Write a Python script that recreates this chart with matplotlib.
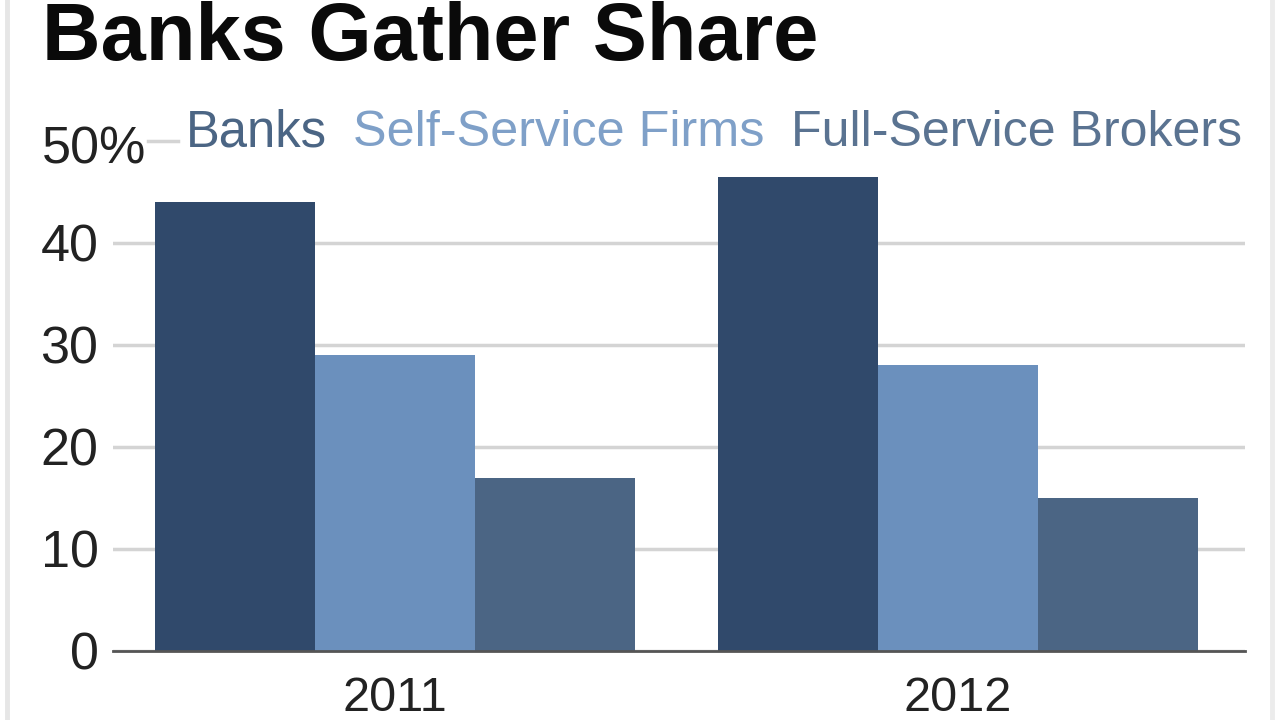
import matplotlib.pyplot as plt
import numpy as np

years = ['2011', '2012']
banks = [44, 46.5]
self_service = [29, 28]
full_service = [17, 15]
y_ticks = [0, 10, 20, 30, 40, 50]
y_labels = ['0', '10', '20', '30', '40', '50%']

plt.rcParams['font.family'] = ['Liberation Sans', 'DejaVu Sans']

fig = plt.figure(figsize=(12.8, 7.2), dpi=100)
# axes spans x 113-1245 px, y 650 (zero) up to 141 (50)
ax = fig.add_axes([113 / 1280, 1 - 651 / 720, (1245 - 113) / 1280, (651 - 141) / 720])

x = np.arange(len(years))
w = 0.2841
ax.bar(x - w, banks, w, color='#30496b', zorder=2)
ax.bar(x, self_service, w, color='#6b90bd', zorder=2)
ax.bar(x + w, full_service, w, color='#4b6584', zorder=2)

ax.set_xlim(-0.5009, 1.5098)
ax.set_ylim(0, 50)
ax.set_yticks(y_ticks[:-1])
ax.set_yticklabels(y_labels[:-1], fontsize=37.5, color='#222222')
ax.set_xticks(x)
ax.set_xticklabels(years, fontsize=35, color='#222222')
ax.tick_params(axis='y', length=0, pad=10.5)
ax.tick_params(axis='x', length=0, pad=18)
ax.grid(axis='y', color='#d4d4d4', lw=2.5, zorder=1)
# only a stub of the top gridline shows, between the 50% label and the legend
ax.axhline(y_ticks[-1], xmin=0.031, xmax=0.0574, color='#d4d4d4', lw=2.5, zorder=1, clip_on=False)
for s in ['top', 'right', 'left']:
    ax.spines[s].set_visible(False)
ax.spines['bottom'].set_color('#555555')
ax.spines['bottom'].set_linewidth(2)
ax.spines['bottom'].set_zorder(3)

fig.text(42 / 1280, 1 - 150 / 720, y_labels[-1], fontsize=37.5, color='#222222', va='center')
fig.text(42 / 1280, 1 - 39 / 720, 'Banks Gather Share', fontsize=58.5, fontweight='bold', color='#0a0a0a', va='center')

# legend written as coloured words
fig.text(186 / 1280, 1 - 133 / 720, 'Banks', fontsize=36.6, color='#4b6584', va='center')
fig.text(353 / 1280, 1 - 133 / 720, 'Self-Service Firms', fontsize=36.3, color='#7fa0c8', va='center')
fig.text(791 / 1280, 1 - 133 / 720, 'Full-Service Brokers', fontsize=36.1, color='#5a7391', va='center')

# pale frame at the edges
fig.add_artist(plt.Line2D([7 / 1280, 7 / 1280], [0, 1], color='#e6e6e6', lw=3.5))
fig.add_artist(plt.Line2D([1272 / 1280, 1272 / 1280], [0, 1], color='#ececec', lw=3.5))

fig.savefig('out.png', dpi=100)
